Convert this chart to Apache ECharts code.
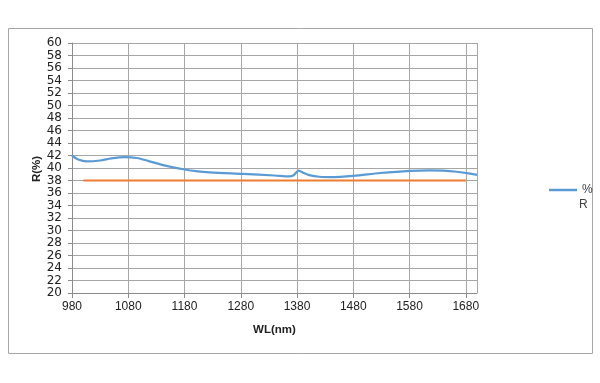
<!DOCTYPE html>
<html>
<head>
<meta charset="utf-8">
<script src="https://cdn.jsdelivr.net/npm/echarts@6/dist/echarts.min.js"></script>
<style>html,body{margin:0;padding:0;background:#fff;}#c{width:600px;height:383px;}</style>
</head>
<body>
<div id="c"></div>
<script>
// Blue series "%R": wavelength (nm) and reflectance (%)
var wlBlue = [980, 990, 1006, 1030, 1050, 1074, 1095, 1115, 1140, 1160, 1178, 1200, 1225, 1284, 1340, 1366, 1374, 1383, 1392, 1402, 1420, 1440, 1480, 1528, 1581, 1616, 1640, 1664, 1685, 1700];
var rBlue  = [42.0, 41.4, 41.05, 41.2, 41.55, 41.75, 41.6, 41.15, 40.5, 40.1, 39.8, 39.5, 39.3, 39.05, 38.8, 38.65, 38.85, 39.6, 39.2, 38.85, 38.6, 38.55, 38.75, 39.2, 39.55, 39.63, 39.58, 39.4, 39.15, 38.9];
// Orange reference line
var wlOrange = [1000, 1680];
var rOrange  = [38, 38];
// Axes
var xMin = 980, xMax = 1700, xStep = 100;
var yMin = 20, yMax = 60, yStep = 2;
var xTitle = 'WL(nm)', yTitle = 'R(%)';
var legendLines = ['%', 'R'];

function pairs(xs, ys) { return xs.map(function (x, i) { return [x, ys[i]]; }); }

var chart = echarts.init(document.getElementById('c'), null, {renderer: 'canvas'});
chart.setOption({
  animation: false,
  backgroundColor: '#fff',
  graphic: [
    {type: 'rect', shape: {x: 8.5, y: 28.5, width: 584, height: 325}, style: {fill: 'none', stroke: '#a6a6a6', lineWidth: 1}, z: -10},
    {type: 'text', left: 579, top: 199, style: {text: legendLines[1], fill: '#404040', font: '12px "Liberation Sans"'}},
    {type: 'text', x: 37, y: 169, rotation: Math.PI / 2,
      style: {text: yTitle, fill: '#222', font: 'bold 11.5px "Liberation Sans"', align: 'center', verticalAlign: 'middle'}}
  ],
  grid: {left: 72, top: 43, right: 123, bottom: 90, containLabel: false},
  legend: {
    data: [{name: legendLines[0], icon: 'rect'}],
    left: 544, top: 179,
    itemWidth: 28, itemHeight: 2.5,
    textStyle: {color: '#404040', fontFamily: 'Liberation Sans', fontSize: 12}
  },
  xAxis: {
    type: 'value', min: xMin, max: xMax, interval: xStep,
    name: xTitle, nameLocation: 'middle', nameGap: 31,
    nameTextStyle: {fontFamily: 'Liberation Sans', fontWeight: 'bold', fontSize: 11.5, color: '#222'},
    axisLine: {show: true, lineStyle: {color: '#8c8c8c', width: 1}},
    axisTick: {show: true, length: 5, lineStyle: {color: '#8c8c8c'}},
    axisLabel: {margin: 8, color: '#222', fontFamily: 'Liberation Sans', fontSize: 12, showMaxLabel: false,
      formatter: function (v) { return String(v); }},
    splitLine: {show: true, lineStyle: {color: '#a6a6a6', width: 1}}
  },
  yAxis: {
    type: 'value', min: yMin, max: yMax, interval: yStep,
    axisLine: {show: true, lineStyle: {color: '#8c8c8c', width: 1}},
    axisTick: {show: true, length: 4, lineStyle: {color: '#8c8c8c'}},
    axisLabel: {margin: 10, color: '#222', fontFamily: 'DejaVu Sans', fontSize: 12},
    splitLine: {show: true, lineStyle: {color: '#a6a6a6', width: 1}}
  },
  series: [
    {
      name: legendLines[0], type: 'line', smooth: 0.3, showSymbol: false, symbol: 'none',
      data: pairs(wlBlue, rBlue),
      lineStyle: {color: '#5b9bd5', width: 2.25},
      itemStyle: {color: '#5b9bd5'}, z: 3
    },
    {
      name: 'R-ref', type: 'line', showSymbol: false, symbol: 'none',
      data: pairs(wlOrange, rOrange),
      lineStyle: {color: '#ed7d31', width: 2},
      itemStyle: {color: '#ed7d31'}, z: 2
    }
  ]
});
</script>
</body>
</html>
